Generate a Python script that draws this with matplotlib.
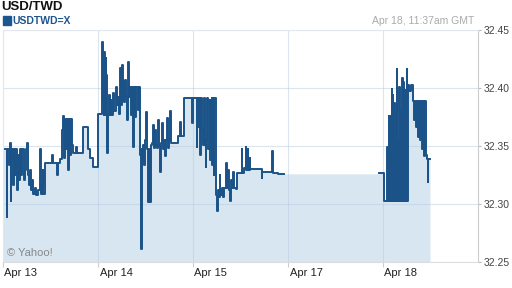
import numpy as np
import pandas as pd
import matplotlib.pyplot as plt
import matplotlib.transforms as mtransforms
from matplotlib.patches import Rectangle

plt.rcParams['font.family'] = ['Liberation Sans', 'DejaVu Sans']

# (trading-day index, USD/TWD rate), one list per session
apr13 = [(0.000, 32.347), (0.032, 32.347), (0.042, 32.289), (0.047, 32.347), (0.063, 32.334),
         (0.074, 32.353), (0.079, 32.303), (0.084, 32.338), (0.095, 32.347), (0.105, 32.316),
         (0.116, 32.347), (0.126, 32.325), (0.137, 32.347), (0.147, 32.312), (0.158, 32.342),
         (0.168, 32.321), (0.179, 32.347), (0.189, 32.325), (0.200, 32.347), (0.221, 32.321),
         (0.232, 32.329), (0.242, 32.347), (0.253, 32.353), (0.263, 32.325), (0.274, 32.316),
         (0.284, 32.329), (0.295, 32.312), (0.305, 32.321), (0.316, 32.309), (0.337, 32.314),
         (0.347, 32.308), (0.368, 32.312), (0.389, 32.347), (0.395, 32.309), (0.411, 32.316),
         (0.421, 32.329), (0.426, 32.309), (0.442, 32.335), (0.516, 32.342), (0.526, 32.335),
         (0.568, 32.325), (0.579, 32.335), (0.600, 32.339), (0.621, 32.364), (0.632, 32.376),
         (0.642, 32.340), (0.653, 32.373), (0.663, 32.347), (0.674, 32.373), (0.684, 32.329),
         (0.695, 32.373), (0.705, 32.342), (0.716, 32.373), (0.726, 32.351), (0.737, 32.344),
         (0.768, 32.349), (0.779, 32.344), (0.842, 32.366), (0.895, 32.347), (0.916, 32.340),
         (0.947, 32.332)]

apr14 = [(1.000, 32.378), (1.039, 32.409), (1.042, 32.378), (1.045, 32.440), (1.053, 32.390),
         (1.056, 32.401), (1.063, 32.377), (1.067, 32.431), (1.074, 32.381), (1.079, 32.426),
         (1.084, 32.377), (1.089, 32.411), (1.095, 32.344), (1.100, 32.377), (1.116, 32.394),
         (1.126, 32.377), (1.137, 32.390), (1.147, 32.377), (1.158, 32.396), (1.168, 32.380),
         (1.189, 32.401), (1.200, 32.385), (1.211, 32.392), (1.221, 32.378), (1.232, 32.417),
         (1.242, 32.385), (1.253, 32.420), (1.258, 32.390), (1.263, 32.405), (1.274, 32.388),
         (1.284, 32.407), (1.295, 32.393), (1.305, 32.372), (1.316, 32.422), (1.326, 32.392),
         (1.337, 32.401), (1.347, 32.377), (1.358, 32.401), (1.368, 32.349), (1.374, 32.401),
         (1.389, 32.375), (1.400, 32.401), (1.421, 32.381), (1.432, 32.401), (1.442, 32.342),
         (1.453, 32.261), (1.458, 32.347), (1.463, 32.338), (1.474, 32.351), (1.484, 32.334),
         (1.495, 32.355), (1.505, 32.379), (1.516, 32.347), (1.526, 32.302), (1.537, 32.347),
         (1.547, 32.302), (1.558, 32.351), (1.568, 32.353), (1.579, 32.368), (1.589, 32.348),
         (1.600, 32.364), (1.611, 32.351), (1.621, 32.348), (1.632, 32.372), (1.642, 32.351),
         (1.653, 32.328), (1.663, 32.353), (1.674, 32.370), (1.684, 32.347), (1.695, 32.355),
         (1.705, 32.341), (1.716, 32.355), (1.726, 32.374), (1.737, 32.348), (1.747, 32.355),
         (1.758, 32.380), (1.768, 32.353), (1.842, 32.359), (1.863, 32.371), (1.874, 32.359),
         (1.905, 32.391), (1.989, 32.370), (1.995, 32.391)]

apr15 = [(2.042, 32.349), (2.047, 32.391), (2.058, 32.366), (2.063, 32.391), (2.074, 32.342),
         (2.084, 32.391), (2.095, 32.364), (2.105, 32.351), (2.116, 32.391), (2.126, 32.351),
         (2.137, 32.332), (2.142, 32.355), (2.147, 32.391), (2.163, 32.347), (2.174, 32.390),
         (2.184, 32.338), (2.195, 32.391), (2.205, 32.334), (2.211, 32.391), (2.221, 32.325),
         (2.226, 32.391), (2.237, 32.314), (2.247, 32.308), (2.253, 32.294), (2.258, 32.312),
         (2.274, 32.306), (2.284, 32.325), (2.289, 32.308), (2.305, 32.314), (2.316, 32.306),
         (2.326, 32.314), (2.347, 32.335), (2.353, 32.314), (2.368, 32.329), (2.379, 32.312),
         (2.389, 32.303), (2.400, 32.321), (2.411, 32.314), (2.421, 32.328), (2.432, 32.314),
         (2.453, 32.313), (2.463, 32.327), (2.516, 32.347), (2.521, 32.327), (2.537, 32.331),
         (2.558, 32.349), (2.563, 32.329), (2.579, 32.347), (2.584, 32.329), (2.595, 32.340),
         (2.605, 32.330), (2.726, 32.322), (2.731, 32.328), (2.832, 32.346), (2.837, 32.327),
         (2.895, 32.326), (2.958, 32.326), (2.959, np.nan)]

apr18 = [(3.958, 32.327), (4.011, 32.303), (4.042, 32.349), (4.049, 32.303), (4.058, 32.376),
         (4.065, 32.303), (4.074, 32.376), (4.082, 32.303), (4.092, 32.399), (4.098, 32.303),
         (4.102, 32.394), (4.109, 32.303), (4.116, 32.387), (4.122, 32.303), (4.128, 32.378),
         (4.135, 32.303), (4.144, 32.416), (4.151, 32.303), (4.158, 32.355), (4.164, 32.303),
         (4.172, 32.401), (4.179, 32.303), (4.186, 32.381), (4.193, 32.303), (4.200, 32.409),
         (4.206, 32.303), (4.214, 32.405), (4.221, 32.303), (4.227, 32.398), (4.233, 32.303),
         (4.242, 32.390), (4.249, 32.416), (4.256, 32.303), (4.263, 32.403), (4.274, 32.397),
         (4.295, 32.403), (4.316, 32.389), (4.326, 32.372), (4.337, 32.389), (4.347, 32.366),
         (4.358, 32.389), (4.368, 32.358), (4.379, 32.389), (4.389, 32.355), (4.400, 32.389),
         (4.411, 32.347), (4.421, 32.389), (4.432, 32.341), (4.442, 32.389), (4.453, 32.342),
         (4.463, 32.339), (4.470, 32.319), (4.477, 32.339), (4.495, 32.339)]

day_labels = ['Apr 13', 'Apr 14', 'Apr 15', 'Apr 17', 'Apr 18']
rate_ticks = [32.25, 32.30, 32.35, 32.40, 32.45]

LINE = '#1b5388'
FILL = '#d7e6f1'

df = pd.DataFrame(apr13 + apr14 + apr15 + apr18, columns=['day', 'rate'])

fig = plt.figure(figsize=(5.12, 2.88), dpi=100)
ax = fig.add_axes([3 / 512, 26 / 288, 475 / 512, 232 / 288])

ax.fill_between(df['day'], df['rate'].ffill(), rate_ticks[0], step='post',
                color=FILL, lw=0, zorder=1)
ax.plot(df['day'], df['rate'], drawstyle='steps-post', color=LINE, lw=1.4, zorder=2)

ax.set_xlim(0, 5)
ax.set_ylim(rate_ticks[0], rate_ticks[-1])
ax.set_axisbelow('line')
ax.grid(True, color='#b9cde0', alpha=0.5, lw=0.8)

ax.set_xticks(range(len(day_labels)))
ax.set_xticklabels(day_labels)
ax.set_yticks(rate_ticks)
ax.set_yticklabels(['%.2f' % v for v in rate_ticks])
ax.yaxis.tick_right()

ax.tick_params(axis='x', length=3.5, color='#cccccc', labelsize=8, labelcolor='#222222', pad=1)
ax.tick_params(axis='y', length=2.5, color='#bbbbbb', labelsize=7.5, labelcolor='#444444', pad=1.5)
shift = mtransforms.ScaledTranslation(1.5 / 100, 0, fig.dpi_scale_trans)
for lbl in ax.get_xticklabels():
    lbl.set_ha('left')
    lbl.set_transform(lbl.get_transform() + shift)

for side in ['left', 'top']:
    ax.spines[side].set_color('#e3e7ee')
    ax.spines[side].set_linewidth(0.8)
ax.spines['right'].set_color('#cccccc')
ax.spines['right'].set_linewidth(0.8)
ax.spines['bottom'].set_color('#dddddd')
ax.spines['bottom'].set_linewidth(0.8)

# header
fig.text(0.002, 1 - 10 / 288, 'USD/TWD', fontsize=9.5, fontweight='bold', color='#111111', va='baseline')
fig.patches.append(Rectangle((2.7 / 512, 1 - 25 / 288), 8 / 512, 9 / 288,
                             transform=fig.transFigure, color='#1d5590', figure=fig))
fig.text(12.7 / 512, 1 - 24 / 288, 'USDTWD=X', fontsize=7.5, fontweight='bold', color='#1d5590', va='baseline')
fig.text(474 / 512, 1 - 23.5 / 288, 'Apr 18, 11:37am GMT', fontsize=7.5, color='#aaaaaa',
         ha='right', va='baseline')
fig.text(7 / 512, 1 - 256 / 288, '\u00a9 Yahoo!', fontsize=8, color='#888888', va='baseline')

fig.savefig('out.png', dpi=100)
